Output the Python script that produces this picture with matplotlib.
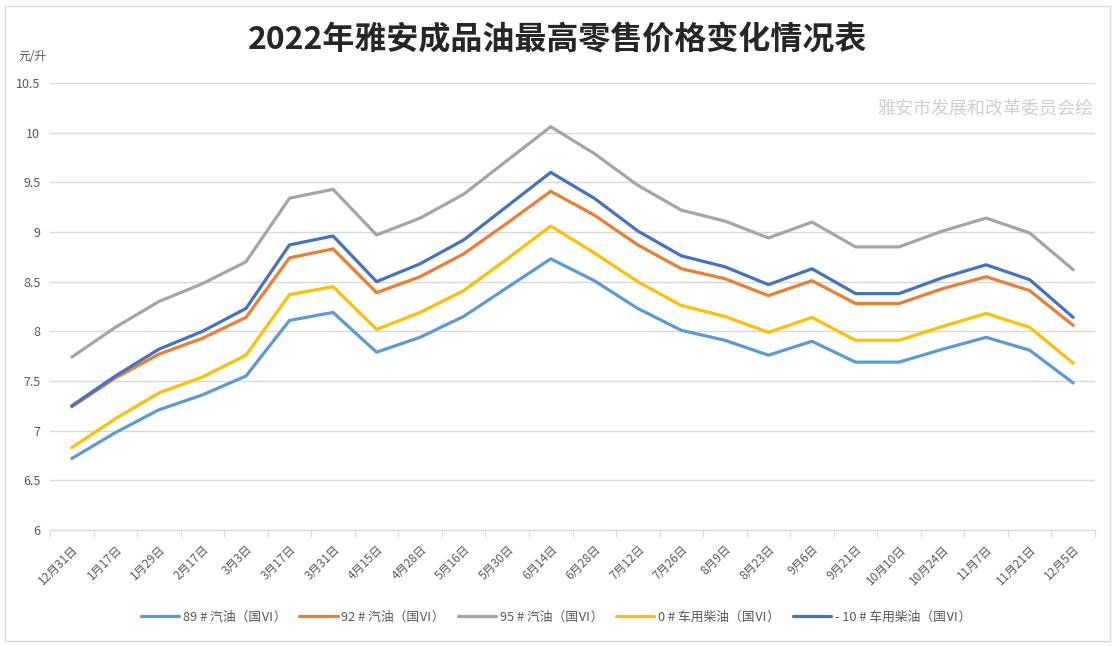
import matplotlib
matplotlib.use("Agg")
import matplotlib.pyplot as plt
from matplotlib.patches import Rectangle

plt.rcParams['font.family'] = ['Noto Sans CJK SC', 'DejaVu Sans']

dates = ["12月31日", "1月17日", "1月29日", "2月17日", "3月3日", "3月17日", "3月31日",
         "4月15日", "4月28日", "5月16日", "5月30日", "6月14日", "6月28日", "7月12日",
         "7月26日", "8月9日", "8月23日", "9月6日", "9月21日", "10月10日", "10月24日",
         "11月7日", "11月21日", "12月5日"]

gas89 = [6.72, 6.98, 7.21, 7.36, 7.55, 8.11, 8.19, 7.79, 7.94, 8.15, 8.44, 8.73,
         8.51, 8.23, 8.01, 7.91, 7.76, 7.90, 7.69, 7.69, 7.82, 7.94, 7.81, 7.48]
gas92 = [7.24, 7.53, 7.77, 7.93, 8.14, 8.74, 8.83, 8.39, 8.55, 8.78, 9.09, 9.41,
         9.17, 8.87, 8.63, 8.53, 8.36, 8.51, 8.28, 8.28, 8.43, 8.55, 8.41, 8.06]
gas95 = [7.74, 8.04, 8.30, 8.48, 8.70, 9.34, 9.43, 8.97, 9.14, 9.38, 9.72, 10.06,
         9.79, 9.47, 9.22, 9.11, 8.94, 9.10, 8.85, 8.85, 9.01, 9.14, 8.99, 8.62]
diesel0 = [6.83, 7.12, 7.38, 7.54, 7.76, 8.37, 8.45, 8.02, 8.19, 8.41, 8.73, 9.06,
           8.79, 8.50, 8.26, 8.15, 7.99, 8.14, 7.91, 7.91, 8.05, 8.18, 8.04, 7.68]
diesel_10 = [7.25, 7.55, 7.82, 8.00, 8.23, 8.87, 8.96, 8.50, 8.68, 8.92, 9.26, 9.60,
             9.34, 9.01, 8.76, 8.65, 8.47, 8.63, 8.38, 8.38, 8.54, 8.67, 8.52, 8.14]

series_labels = ["89 # 汽油（国Ⅵ）", "92 # 汽油（国Ⅵ）", "95 # 汽油（国Ⅵ）",
                 "0 # 车用柴油（国Ⅵ）", "- 10 # 车用柴油（国Ⅵ）"]
series_values = [gas89, gas92, gas95, diesel0, diesel_10]
colors = ["#5B9BD5", "#ED7D31", "#A5A5A5", "#FFC000", "#4472C4"]

yticks = [6, 6.5, 7, 7.5, 8, 8.5, 9, 9.5, 10, 10.5]
ytick_labels = ["6", "6.5", "7", "7.5", "8", "8.5", "9", "9.5", "10", "10.5"]

W, H = 1116, 646
fig = plt.figure(figsize=(W / 100, H / 100), dpi=100)
fig.patch.set_facecolor("white")
fig.add_artist(Rectangle((5 / W, 5 / H), 1 - 11 / W, 1 - 11 / H, transform=fig.transFigure,
                         fill=False, edgecolor="#D9D9D9", linewidth=1.0))

ax = fig.add_axes([50 / W, 1 - 530 / H, 1045 / W, (530 - 83) / H])
x = list(range(len(dates)))
for vals, lab, c in zip(series_values, series_labels, colors):
    ax.plot(x, vals, color=c, linewidth=2.3, label=lab, solid_joinstyle="round",
            solid_capstyle="round", zorder=3)

ax.set_xlim(-0.5, len(dates) - 0.5)
ax.set_ylim(6, 10.5)
ax.set_yticks(yticks)
ax.set_yticklabels(ytick_labels)
ax.grid(axis="y", color="#D9D9D9", linewidth=1.0)
ax.set_axisbelow(True)
for s in ["top", "right", "left"]:
    ax.spines[s].set_visible(False)
ax.spines["bottom"].set_color("#D9D9D9")
ax.spines["bottom"].set_linewidth(1.0)
ax.tick_params(axis="y", length=0, pad=7, labelsize=9, labelcolor="#595959")

ax.set_xticks([i + 0.5 for i in range(-1, len(dates))], minor=False)
ax.set_xticklabels([])
ax.tick_params(axis="x", which="major", length=5, color="#D9D9D9", direction="out")
ax.set_xticks(x, minor=True)
ax.set_xticklabels(dates, minor=True, rotation=45, ha="right", rotation_mode="anchor",
                   fontsize=8.5, color="#595959")
ax.tick_params(axis="x", which="minor", length=0, pad=9)

fig.text(0.5, 1 - 40 / H, "2022年雅安成品油最高零售价格变化情况表", ha="center", va="center",
         fontsize=23, fontweight="bold", color="#262626")
fig.text(18 / W, 1 - 56 / H, "元/升", ha="left", va="center", fontsize=8.5, color="#595959")
fig.text(1093 / W, 1 - 108 / H, "雅安市发展和改革委员会绘", ha="right", va="center",
         fontsize=13, color="#CFCFCF")

leg = fig.legend(loc="center", bbox_to_anchor=(556 / W, 1 - 617 / H), ncol=5, frameon=False,
                 fontsize=9.2, handlelength=3.0, columnspacing=1.0, handletextpad=0.3)
for t in leg.get_texts():
    t.set_color("#595959")

fig.savefig("out.png", dpi=100, facecolor="white")
